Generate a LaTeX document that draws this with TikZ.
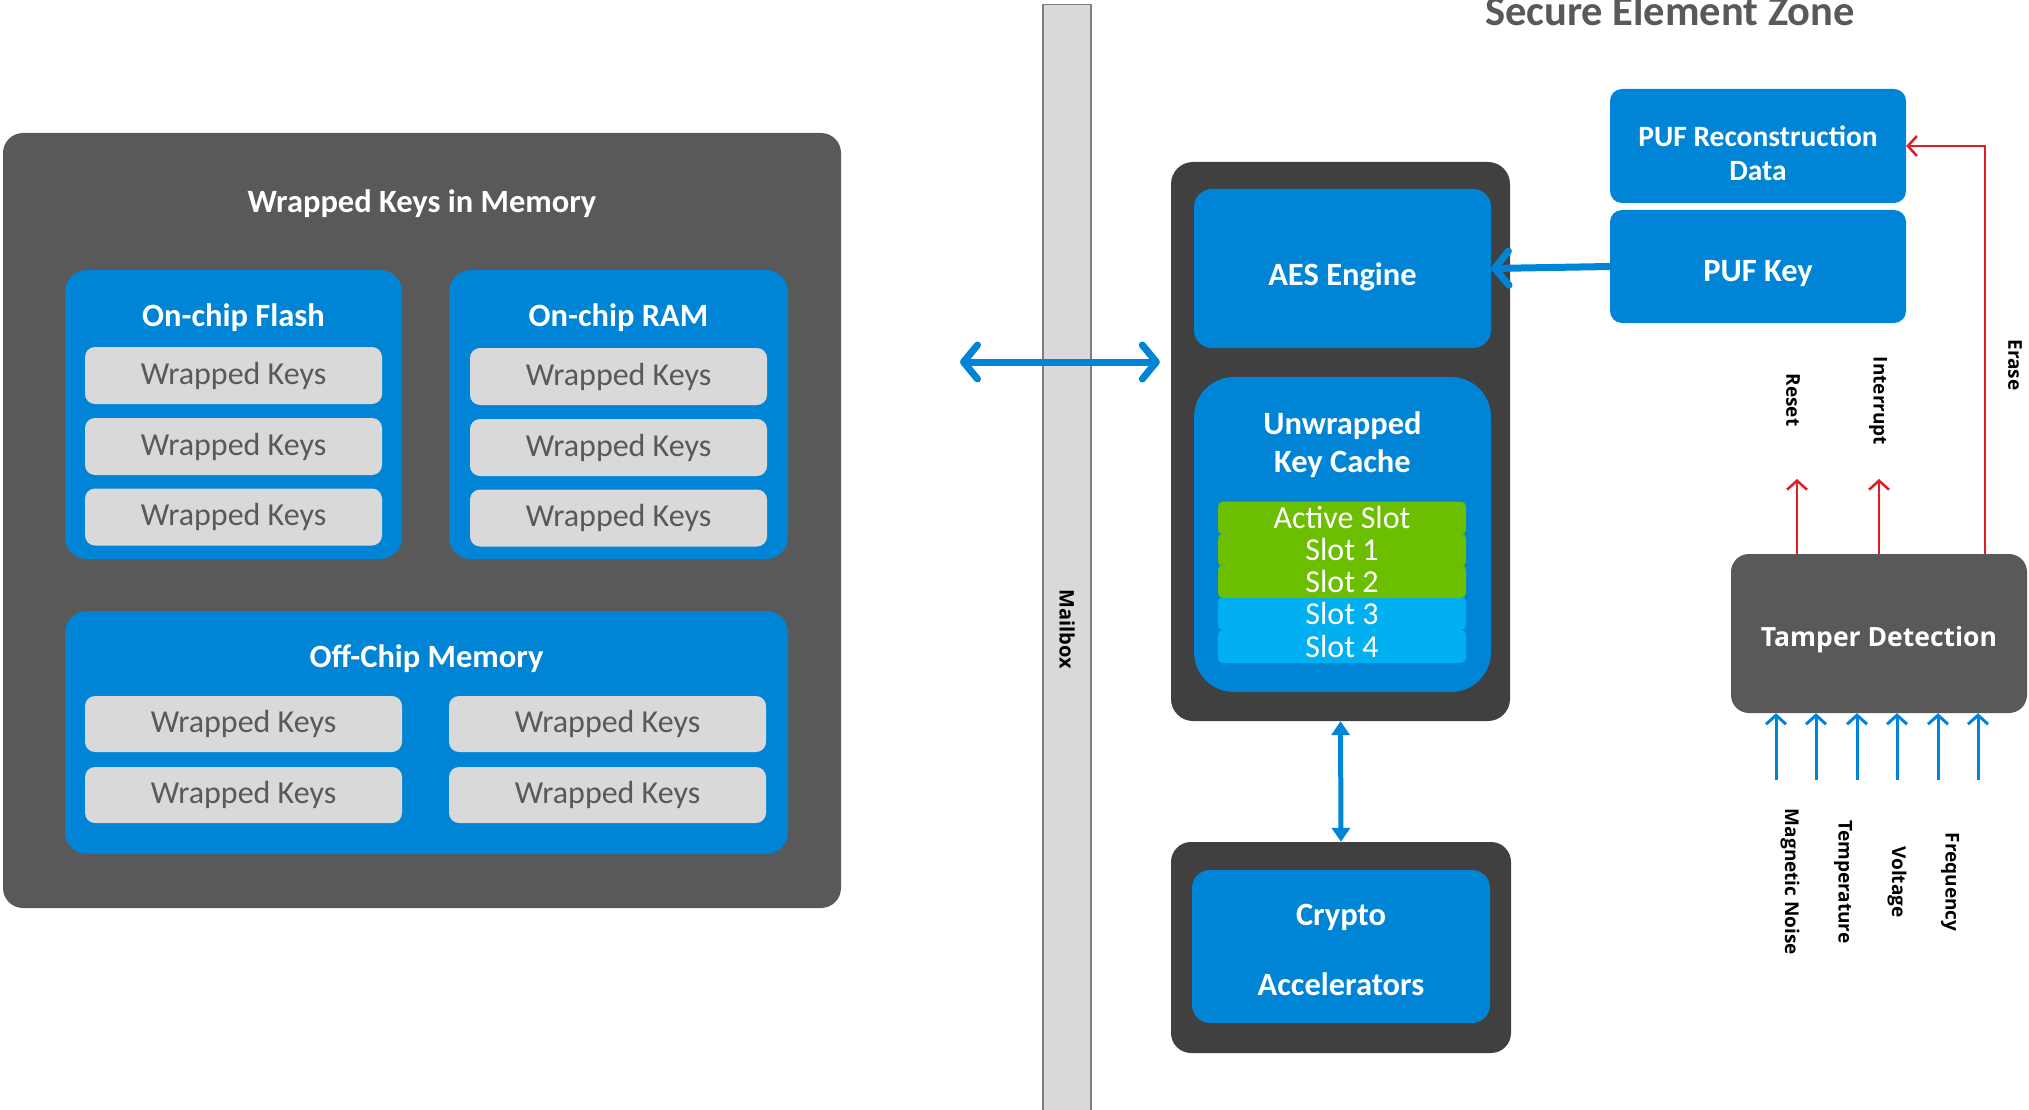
\documentclass[tikz,border=0pt]{standalone}
\usepackage{fontspec}
\setmainfont{Carlito}
\newfontfamily\segfont{Open Sans}
\usetikzlibrary{arrows.meta}
\newcommand\fsz[2]{\fontsize{#1}{#2}\selectfont}
\definecolor{boxblue}{HTML}{0085D6}
\definecolor{memgrey}{HTML}{595959}
\definecolor{coregrey}{HTML}{404040}
\definecolor{keygrey}{HTML}{D9D9D9}
\definecolor{slotgreen}{HTML}{6CBE00}
\definecolor{slotblue}{HTML}{00B0F0}
\definecolor{sigred}{HTML}{E31B23}
\definecolor{barline}{HTML}{7F7F7F}
\tikzset{
  panel/.style={fill=#1, draw=none, inner sep=0pt, rounded corners=20pt},
  bluebox/.style={fill=boxblue, draw=none, inner sep=0pt, rounded corners=#1, text=white, font=\bfseries\fsz{32.5}{38}, align=center},
  keybox/.style={fill=keygrey, draw=none, inner sep=0pt, rounded corners=10pt, text=memgrey, font=\fsz{32}{36}},
  slotbox/.style={fill=#1, draw=none, inner sep=0pt, rounded corners=5pt, text=white, font=\fsz{32}{34}, minimum width=248pt, minimum height=33pt},
  title/.style={text=white, font=\bfseries\fsz{32.5}{38}, align=center, inner sep=0pt},
  sidelabel/.style={text=black, font=\segfont\bfseries\fsz{19}{23}, rotate=-90, inner sep=0pt},
  bigarrow/.style={draw=boxblue, line width=7pt, {Straight Barb[length=14pt,width=34pt,round]}-{Straight Barb[length=14pt,width=34pt,round]}},
  pufarrow/.style={draw=boxblue, line width=7pt, -{Straight Barb[length=14pt,width=34pt,round]}},
  busarrow/.style={draw=boxblue, line width=5pt, {Triangle[length=14pt,width=18pt]}-{Triangle[length=14pt,width=18pt]}},
  redarrow/.style={draw=sigred, line width=2.5pt, -{Straight Barb[length=9pt,width=20pt]}},
  inarrow/.style={draw=boxblue, line width=3pt, -{Straight Barb[length=9pt,width=20pt]}},
}
\begin{document}
\begin{tikzpicture}[x=1pt, y=-1pt]
\useasboundingbox (0,0) rectangle (2029,1110);

% ---------- wrapped keys held in memory ----------
\node[panel=memgrey, minimum width=838pt, minimum height=775pt] (mem) at (422,520.5) {};
\node[title] (memtitle) at (422,204) {Wrapped Keys in Memory};

\node[bluebox=22pt, minimum width=337pt, minimum height=289pt] (flash) at (233.5,414.5) {};
\node[title] (flashtitle) at (233.5,318) {On-chip Flash};
\node[keybox, minimum width=297pt, minimum height=57pt] (fk1) at (233.5,375.5) {Wrapped Keys};
\node[keybox, minimum width=297pt, minimum height=57pt] (fk2) at (233.5,446.5) {Wrapped Keys};
\node[keybox, minimum width=297pt, minimum height=57pt] (fk3) at (233.5,517) {Wrapped Keys};

\node[bluebox=22pt, minimum width=339pt, minimum height=289pt] (ram) at (618.5,414.5) {};
\node[title] (ramtitle) at (618.5,318) {On-chip RAM};
\node[keybox, minimum width=297pt, minimum height=57pt] (rk1) at (618.5,376.5) {Wrapped Keys};
\node[keybox, minimum width=297pt, minimum height=57pt] (rk2) at (618.5,447.5) {Wrapped Keys};
\node[keybox, minimum width=297pt, minimum height=57pt] (rk3) at (618.5,518) {Wrapped Keys};

\node[bluebox=22pt, minimum width=723pt, minimum height=243pt] (offchip) at (426.5,732.5) {};
\node[title] (offtitle) at (426.5,659) {Off-Chip Memory};
\node[keybox, minimum width=317pt, minimum height=56pt] (ok1) at (243.5,724) {Wrapped Keys};
\node[keybox, minimum width=317pt, minimum height=56pt] (ok2) at (607.5,724) {Wrapped Keys};
\node[keybox, minimum width=317pt, minimum height=56pt] (ok3) at (243.5,795) {Wrapped Keys};
\node[keybox, minimum width=317pt, minimum height=56pt] (ok4) at (607.5,795) {Wrapped Keys};

% ---------- mailbox ----------
\node[fill=keygrey, draw=barline, line width=1.5pt, inner sep=0pt, minimum width=48pt, minimum height=1111pt] (mailbox) at (1067,560) {};
\node[sidelabel, font=\segfont\bfseries\fsz{20}{24}] (mailtext) at (1067,629) {Mailbox};

% ---------- secure element zone ----------
\node[anchor=base, inner sep=0pt, text=memgrey, font=\bfseries\fsz{42.5}{48}] (zone) at (1670,26) {Secure Element Zone};

\node[panel=coregrey, rounded corners=22pt, minimum width=339pt, minimum height=559pt] (core) at (1340.5,441.5) {};
\node[bluebox=18pt, minimum width=297pt, minimum height=159pt] (aes) at (1342.5,268.5) {};
\node[title] (aestext) at (1342.5,277) {AES Engine};
\node[bluebox=40pt, minimum width=297pt, minimum height=315pt] (cache) at (1342.5,534.5) {};
\node[title] (cachetext) at (1342.5,445) {Unwrapped\\Key Cache};
\node[slotbox=slotblue] (slot4) at (1342,646.5) {Slot 4};
\node[slotbox=slotblue] (slot3) at (1342,613.5) {Slot 3};
\node[slotbox=slotgreen] (slot2) at (1342,581.5) {Slot 2};
\node[slotbox=slotgreen] (slot1) at (1342,550) {Slot 1};
\node[slotbox=slotgreen] (slot0) at (1342,518) {Active Slot};

\node[panel=coregrey, minimum width=340pt, minimum height=211pt] (cryptoouter) at (1341,947.5) {};
\node[bluebox=18pt, minimum width=298pt, minimum height=153pt] (crypto) at (1341,946.5) {};
\node[title] (cryptotext) at (1341,950) {Crypto\\[32pt]Accelerators};

\node[bluebox=12pt, minimum width=296pt, minimum height=114pt] (pufrec) at (1758,146) {};
\node[title, font=\bfseries\fsz{29.5}{34}] (pufrectext) at (1758,153) {PUF Reconstruction\\Data};
\node[bluebox=12pt, minimum width=296pt, minimum height=113pt] (pufkey) at (1758,266.5) {};
\node[title] (pufkeytext) at (1758,274) {PUF Key};

\node[panel=memgrey, rounded corners=18pt, minimum width=296pt, minimum height=159pt] (tamper) at (1879,633.5) {};
\node[title, font=\segfont\bfseries\fsz{26.5}{30}] (tampertext) at (1879,640) {Tamper Detection};

% ---------- connectors ----------
\coordinate (hostend) at (960,362);
\draw[bigarrow] (hostend) -- ([xshift=-11pt]core.west |- hostend);
\draw[pufarrow] (pufkey.west) -- (aes.east);
\draw[busarrow] (core.south) -- (cryptoouter.north);

% tamper responses
\coordinate (resetend) at (1797,479);
\coordinate (intend) at (1879,479);
\coordinate (erasecorner) at (1985,146);
\draw[redarrow] (tamper.north -| resetend) -- (resetend);
\draw[redarrow] (tamper.north -| intend) -- (intend);
\draw[redarrow] (tamper.north -| erasecorner) -- (erasecorner) -- (pufrec.east);
\node[sidelabel] (resetlbl) at (1793,400) {Reset};
\node[sidelabel] (intlbl) at (1878,401) {Interrupt};
\node[sidelabel] (eraselbl) at (2015,365) {Erase};

% sensor inputs
\foreach \i/\xx in {1/1776,2/1816,3/1857,4/1897,5/1938,6/1978} {
  \coordinate (in\i) at (\xx,780);
  \draw[inarrow] (in\i) -- (in\i |- tamper.south);
}
\node[sidelabel] (magnoise) at (1790,882) {Magnetic Noise};
\node[sidelabel] (temp) at (1843,882) {Temperature};
\node[sidelabel] (volt) at (1897,882) {Voltage};
\node[sidelabel] (freq) at (1950,882) {Frequency};
\end{tikzpicture}
\end{document}
